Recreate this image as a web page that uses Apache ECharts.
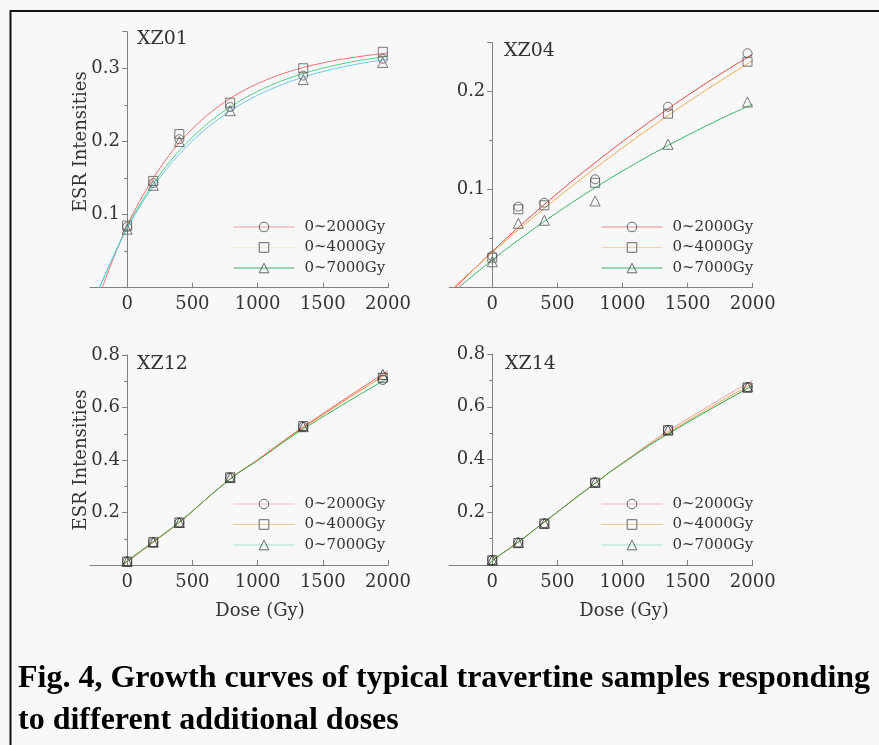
<!DOCTYPE html>
<html><head><meta charset="utf-8">
<script src="https://cdn.jsdelivr.net/npm/echarts@6/dist/echarts.min.js"></script>
<style>html,body{margin:0;padding:0;background:#f8f8f8;}#c{width:879px;height:745px;}</style>
</head><body><div id="c"></div>
<script>
// ---------- data ----------
const panelNames = ['XZ01', 'XZ04', 'XZ12', 'XZ14'];
const rangeNames = ['0~2000Gy', '0~4000Gy', '0~7000Gy'];
const doses = [0, 200, 400, 790, 1350, 1960];
const xTicks = [0, 500, 1000, 1500, 2000];
const captionLines = ['Fig. 4, Growth curves of typical travertine samples responding', 'to different additional doses'];
const yAxisTitle = 'ESR Intensities';
const xAxisTitle = 'Dose (Gy)';

// measured points (circle = 0~2000, square = 0~4000, triangle = 0~7000)
const xz01_2000 = [0.083, 0.143, 0.203, 0.247, 0.290, 0.313];
const xz01_4000 = [0.085, 0.146, 0.210, 0.253, 0.300, 0.3225];
const xz01_7000 = [0.080, 0.140, 0.200, 0.242, 0.2845, 0.308];
const xz04_2000 = [0.0324, 0.0827, 0.0867, 0.1106, 0.1847, 0.2392];
const xz04_4000 = [0.0306, 0.0800, 0.0841, 0.1070, 0.1776, 0.2306];
const xz04_7000 = [0.0265, 0.0657, 0.0688, 0.0885, 0.1463, 0.1895];
const xz12_2000 = [0.013, 0.086, 0.161, 0.333, 0.527, 0.705];
const xz12_4000 = [0.013, 0.087, 0.162, 0.334, 0.529, 0.7135];
const xz12_7000 = [0.014, 0.087, 0.162, 0.333, 0.527, 0.726];
const xz14_2000 = [0.019, 0.085, 0.158, 0.3135, 0.512, 0.674];
const xz14_4000 = [0.018, 0.084, 0.157, 0.312, 0.511, 0.673];
const xz14_7000 = [0.019, 0.085, 0.158, 0.314, 0.512, 0.675];

// fitted growth curves as [dose, intensity]
const xz01_fitA = [[-192,0],[0,0.085],[200,0.150],[400,0.1985],[600,0.2337],[800,0.260],[1000,0.279],[1200,0.293],[1400,0.3033],[1600,0.3109],[1800,0.3165],[2000,0.321]];
const xz01_fitB = [[-212,0],[0,0.083],[200,0.1423],[400,0.1875],[600,0.222],[800,0.2483],[1000,0.2684],[1200,0.2838],[1400,0.2954],[1600,0.3044],[1800,0.3112],[2000,0.3164]];
const xz01_fitC = [[-215,0],[0,0.081],[200,0.1384],[400,0.1826],[600,0.2167],[800,0.2429],[1000,0.2631],[1200,0.2786],[1400,0.2906],[1600,0.2998],[1800,0.3069],[2000,0.3123]];
const xz04_fitA = [[-286,0],[0,0.037],[200,0.0615],[400,0.0849],[600,0.1073],[800,0.1286],[1000,0.149],[1200,0.1685],[1400,0.1872],[1600,0.205],[1800,0.222],[2000,0.2383]];
const xz04_fitB = [[-300,0],[0,0.036],[200,0.0589],[400,0.081],[600,0.1023],[800,0.1229],[1000,0.1427],[1200,0.1618],[1400,0.1803],[1600,0.1981],[1800,0.2152],[2000,0.2317]];
const xz04_fitC = [[-261,0],[0,0.0283],[200,0.0486],[400,0.0677],[600,0.0858],[800,0.1029],[1000,0.1191],[1200,0.1343],[1400,0.1487],[1600,0.1623],[1800,0.1752],[2000,0.1873]];
const xz12_fitA = [[-35,0],[0,0.013],[200,0.087],[400,0.163],[790,0.328],[1000,0.401],[1350,0.526],[2000,0.740]];
const xz12_fitB = [[-35,0],[0,0.013],[200,0.087],[400,0.163],[790,0.328],[1000,0.400],[1350,0.523],[2000,0.731]];
const xz12_fitC = [[-40,0],[0,0.015],[200,0.089],[400,0.164],[790,0.327],[1000,0.398],[1350,0.518],[2000,0.712]];
const xz14_fitA = [[-30,0],[0,0.016],[200,0.087],[400,0.163],[790,0.310],[1000,0.387],[1350,0.508],[2000,0.700]];
const xz14_fitB = [[-30,0],[0,0.016],[200,0.087],[400,0.163],[790,0.310],[1000,0.386],[1350,0.502],[2000,0.688]];
const xz14_fitC = [[-30,0],[0,0.016],[200,0.087],[400,0.163],[790,0.310],[1000,0.385],[1350,0.497],[2000,0.680]];

const panelPoints = [[xz01_2000, xz01_4000, xz01_7000],[xz04_2000, xz04_4000, xz04_7000],[xz12_2000, xz12_4000, xz12_7000],[xz14_2000, xz14_4000, xz14_7000]];
const panelFits = [[xz01_fitA, xz01_fitB, xz01_fitC],[xz04_fitA, xz04_fitB, xz04_fitC],[xz12_fitA, xz12_fitB, xz12_fitC],[xz14_fitA, xz14_fitB, xz14_fitC]];

// ---------- layout & style ----------
const FONT = 'DejaVu Serif';
const TXT = '#333';
const AX = '#808080';
const layout = [
  {grid:{left:90, top:31.7, width:298, height:256}, xMin:-285, yMax:0.35, yInt:0.1, showMax:false, labelMargin:-30, smooth:0.3, title:{left:137, top:30}, legend:{left:233, top:219}, yName:true, xName:false, yNamePad:[0,0,0,36], xNamePad:0, mark:'#555'},
  {grid:{left:449.3, top:42.7, width:303.4, height:245}, xMin:-330, yMax:0.25, yInt:0.1, showMax:false, labelMargin:-36, smooth:0.3, title:{left:504, top:42}, legend:{left:601, top:219}, yName:false, xName:false, mark:'#555'},
  {grid:{left:90, top:355, width:298, height:210}, xMin:-285, yMax:0.8, yInt:0.2, showMax:true, labelMargin:-30, smooth:0.5, title:{left:137, top:355}, legend:{left:233, top:496}, yName:true, xName:true, yNamePad:0, xNamePad:[0,0,0,42], mark:'#333'},
  {grid:{left:449.3, top:354, width:303.4, height:211}, xMin:-330, yMax:0.8, yInt:0.2, showMax:true, labelMargin:-36, smooth:0.5, title:{left:505, top:355}, legend:{left:601, top:496}, yName:false, xName:true, xNamePad:[0,0,0,46], mark:'#333'}
];
const fitColors = [
  ['#f26f6f', '#4fd08a', '#6cc8ee'],
  ['#ea4444', '#f5a84a', '#2fba62'],
  ['#f06464', '#f08a34', '#2fb456'],
  ['#f4a0a0', '#f0a850', '#2aa048']
];
const legendColors = [
  ['#f29a9a', '#f2efcc', '#3fb470'],
  ['#f08a8a', '#f8d4a4', '#3ab868'],
  ['#f6c0c0', '#f6c890', '#a2e6c8'],
  ['#f6b8b8', '#f6c890', '#a2e6c2']
];
const symbols = ['circle', 'rect', 'triangle'];

const grids = [], xAxes = [], yAxes = [], titles = [], legends = [], series = [];
layout.forEach((L, i) => {
  grids.push(Object.assign({containLabel:false}, L.grid));
  titles.push({text: panelNames[i], left: L.title.left, top: L.title.top, padding: 0,
    textStyle:{fontFamily:FONT, fontSize:19, fontWeight:'normal', color:TXT}});
  xAxes.push({type:'value', gridIndex:i, min:L.xMin, max:2000,
    axisLine:{show:true, onZero:true, lineStyle:{color:AX, width:1}},
    axisTick:{show:true, inside:true, length:5, customValues:xTicks, lineStyle:{color:AX}},
    axisLabel:{customValues:xTicks, fontFamily:FONT, fontSize:18, color:TXT, margin:8, formatter:v => String(v)},
    splitLine:{show:false},
    name: L.xName ? xAxisTitle : '', nameLocation:'middle', nameGap:37, nameMoveOverlap:false,
    nameTextStyle:{fontFamily:FONT, fontSize:18, color:TXT, padding:L.xNamePad || 0}
  });
  yAxes.push({type:'value', gridIndex:i, min:0, max:L.yMax, interval:L.yInt,
    axisLine:{show:true, onZero:true, lineStyle:{color:AX, width:1}},
    axisTick:{show:true, length:5, lineStyle:{color:AX}},
    minorTick:{show:true, splitNumber:2, length:3, lineStyle:{color:AX}},
    axisLabel:{showMinLabel:false, showMaxLabel:L.showMax, fontFamily:FONT, fontSize:18, color:TXT, margin:L.labelMargin,
      formatter:v => String(Math.round(v * 100) / 100)},
    splitLine:{show:false}, minorSplitLine:{show:false},
    name: L.yName ? yAxisTitle : '', nameLocation:'middle', nameGap:0, nameRotate:90, nameMoveOverlap:false,
    nameTextStyle:{fontFamily:FONT, fontSize:18, color:TXT, padding:L.yNamePad || 0}
  });
  legends.push({orient:'vertical', left:L.legend.left, top:L.legend.top, padding:0,
    itemWidth:61, itemHeight:12, itemGap:4.5, selectedMode:false,
    textStyle:{fontFamily:FONT, fontSize:15, color:TXT, lineHeight:16, padding:[0,0,0,5]},
    data: rangeNames.map((n, k) => ({name:n,
      itemStyle:{color:'rgba(0,0,0,0)', borderColor:'#666', borderWidth:1},
      lineStyle:{color:legendColors[i][k], width:1}}))
  });
  panelFits[i].forEach((fit, k) => {
    series.push({type:'line', name:rangeNames[k], xAxisIndex:i, yAxisIndex:i,
      data:fit, smooth:L.smooth, showSymbol:false, symbol:symbols[k], silent:true, z:2,
      lineStyle:{color:fitColors[i][k], width:1}, itemStyle:{color:fitColors[i][k]}});
  });
  panelPoints[i].forEach((pts, k) => {
    series.push({type:'scatter', name:panelNames[i] + ' ' + rangeNames[k] + ' data', xAxisIndex:i, yAxisIndex:i,
      data:doses.map((d, j) => [d, pts[j]]), symbol:symbols[k], symbolSize:k === 2 ? 10 : 9, silent:true, z:3,
      itemStyle:{color:'rgba(0,0,0,0)', borderColor:L.mark, borderWidth:1}});
  });
});

const chart = echarts.init(document.getElementById('c'), null, {renderer:'canvas'});
chart.setOption({
  backgroundColor:'#f8f8f8',
  animation:false,
  grid:grids, xAxis:xAxes, yAxis:yAxes, title:titles, legend:legends, series:series,
  graphic:[
    {type:'rect', silent:true, shape:{x:10.5, y:11, width:900, height:800}, style:{fill:'none', stroke:'#111', lineWidth:2}},
    {type:'text', silent:true, x:18, y:679, style:{text:captionLines[0], font:'bold 32px "Liberation Serif"', fill:'#000', verticalAlign:'middle'}},
    {type:'text', silent:true, x:18, y:721, style:{text:captionLines[1], font:'bold 32px "Liberation Serif"', fill:'#000', verticalAlign:'middle'}}
  ]
});
</script></body></html>
